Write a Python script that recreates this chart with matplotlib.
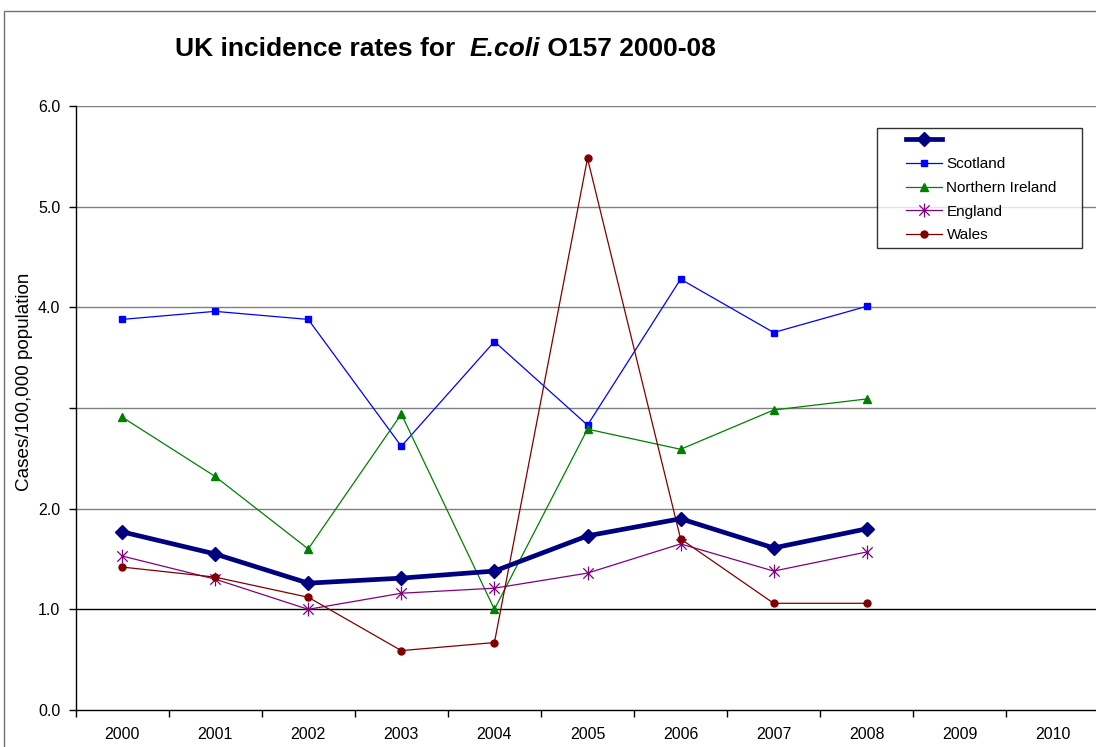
import numpy as np
import matplotlib.pyplot as plt
from matplotlib.path import Path
from matplotlib.patches import Rectangle
from matplotlib.lines import Line2D
from matplotlib.legend_handler import HandlerLine2D

plt.rcParams['font.family'] = ['Liberation Sans', 'DejaVu Sans']

# Incidence per 100,000 population, 2000-2008
years = ['2000', '2001', '2002', '2003', '2004', '2005', '2006', '2007', '2008', '2009', '2010']
uk = [1.77, 1.55, 1.26, 1.31, 1.38, 1.73, 1.90, 1.61, 1.80]
scotland = [3.88, 3.96, 3.88, 2.62, 3.66, 2.83, 4.28, 3.75, 4.01]
n_ireland = [2.91, 2.32, 1.60, 2.94, 1.00, 2.79, 2.59, 2.98, 3.09]
england = [1.53, 1.30, 1.00, 1.16, 1.21, 1.36, 1.65, 1.38, 1.57]
wales = [1.42, 1.32, 1.12, 0.59, 0.67, 5.48, 1.70, 1.06, 1.06]

y_ticks = [0, 1, 2, 3, 4, 5, 6]
y_tick_labels = ['0.0', '1.0', '2.0', '', '4.0', '5.0', '6.0']

W, H = 1096, 747
fig = plt.figure(figsize=(W / 100, H / 100), dpi=100)

# outer chart frame (runs off the right and bottom edges)
fig.patches.append(Rectangle((4 / W, -0.1), 1.2, (H - 11) / H + 0.1,
                             transform=fig.transFigure, fill=False,
                             edgecolor='#707070', linewidth=1.0))

# plot area is wider than the figure, right side gets clipped
ax = fig.add_axes([75.5 / W, 37 / H, 1024 / W, 604 / H])
ax.set_xlim(-0.5, len(years) - 0.5)
ax.set_ylim(0, 6)

for v in y_ticks[1:]:
    ax.axhline(v, color='black' if v == 1 else '#808080', linewidth=1.0, zorder=1)

# asterisk marker: vertical bar plus a cross
star = Path([(0, -1), (0, 1), (-0.75, -0.75), (0.75, 0.75), (-0.75, 0.75), (0.75, -0.75)],
            [Path.MOVETO, Path.LINETO, Path.MOVETO, Path.LINETO, Path.MOVETO, Path.LINETO])

x = np.arange(len(uk))
ax.plot(x, uk, color='#000080', linewidth=3.4, marker='D', markersize=7, label=' ', zorder=5)
ax.plot(x, scotland, color='#0000FF', linewidth=0.9, marker='s', markersize=5, label='Scotland', zorder=4)
ax.plot(x, n_ireland, color='#008000', linewidth=0.9, marker='^', markersize=6, label='Northern Ireland', zorder=4)
ax.plot(x, england, color='#800080', linewidth=0.9, marker=star, markersize=10,
        markeredgewidth=0.9, label='England', zorder=4)
ax.plot(x, wales, color='#800000', linewidth=0.9, marker='o', markersize=5, label='Wales', zorder=4)

# axes styling
for side in ['top', 'right']:
    ax.spines[side].set_visible(False)
for side in ['left', 'bottom']:
    ax.spines[side].set_color('black')
    ax.spines[side].set_linewidth(1.0)

ax.set_yticks(y_ticks)
ax.set_yticklabels(y_tick_labels, fontsize=11.5)
ax.tick_params(axis='y', direction='out', length=5, width=1, pad=6)

# category boundaries get the tick marks, labels sit in between
ax.set_xticks(np.arange(-0.5, len(years)), minor=False)
ax.set_xticklabels([])
ax.set_xticks(np.arange(len(years)), minor=True)
ax.set_xticklabels(years, minor=True, fontsize=11.5)
ax.tick_params(axis='x', which='major', direction='out', length=5, width=1)
ax.tick_params(axis='x', which='minor', length=0, pad=12.3)

ax.set_ylabel('Cases/100,000 population', fontsize=13.6, va='center')
ax.yaxis.set_label_coords((25 - 75.5) / 1024, (710 - 382) / 604)

leg = ax.legend(loc='upper left', bbox_to_anchor=(0.7827, 0.70, 0.2002, 0.2636),
                mode='expand', fontsize=11, frameon=True, fancybox=False,
                edgecolor='black', borderpad=0.35, labelspacing=0.64,
                handlelength=3.9, handletextpad=0.3, borderaxespad=0,
                handler_map={Line2D: HandlerLine2D(xpad=1.53)})
leg.get_frame().set_linewidth(1.0)

# title with the italic organism name
fig.canvas.draw()
renderer = fig.canvas.get_renderer()
tx, ty = 175 / W, (H - 56) / H
parts = [('UK incidence rates for  ', 'normal'), ('E.coli', 'italic'), (' O157 2000-08', 'normal')]
for text, style in parts:
    t = fig.text(tx, ty, text, fontsize=19, fontweight='bold', style=style,
                 ha='left', va='baseline')
    bb = t.get_window_extent(renderer)
    tx = bb.x1 / W

fig.savefig('out.png', dpi=100)
